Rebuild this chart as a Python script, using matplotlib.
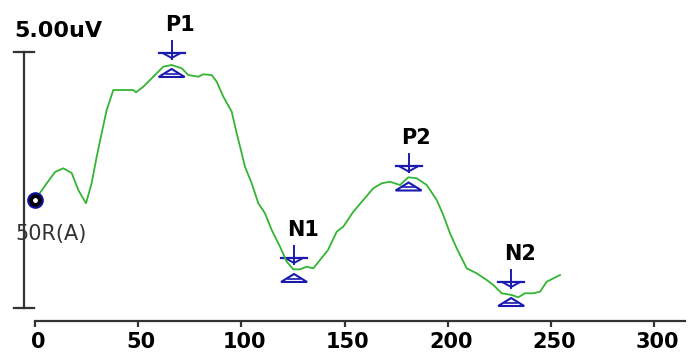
import matplotlib
matplotlib.use("Agg")
import matplotlib.pyplot as plt
import matplotlib.transforms as mtransforms
from matplotlib.lines import Line2D
from matplotlib.patches import Polygon

# ---------------- data ----------------
time_ms = [0, 5.67, 9.69, 13.71, 17.78, 20.98, 24.71, 27.47, 29.89, 32.32, 34.74,
           37.94, 42.15, 47.48, 48.93, 52.47, 57.32, 62.16, 66.23, 71.08, 74.27,
           79.12, 81.54, 85.61, 88.03, 91.23, 95.30, 97.72, 100.15, 101.74, 104.99,
           108.19, 111.43, 114.68, 118.70, 121.95, 125.15, 128.39, 131.64, 134.84,
           138.08, 141.96, 146.17, 149.37, 154.22, 159.06, 163.91, 167.97, 171.99,
           176.84, 180.86, 184.93, 189.78, 194.62, 197.82, 201.07, 204.31, 209.16,
           214.00, 218.85, 222.05, 226.12, 230.96, 234.16, 237.40, 241.42, 244.67,
           247.92, 254.36]
amp_uv = [0, 0.326, 0.547, 0.619, 0.527, 0.195, -0.064, 0.332, 0.846, 1.309, 1.758,
          2.148, 2.148, 2.148, 2.104, 2.213, 2.408, 2.604, 2.637, 2.572, 2.441,
          2.408, 2.455, 2.441, 2.311, 2.018, 1.725, 1.303, 0.912, 0.650, 0.326,
          -0.064, -0.260, -0.586, -0.912, -1.205, -1.354, -1.354, -1.303, -1.334,
          -1.172, -0.977, -0.619, -0.521, -0.229, 0.0, 0.229, 0.326, 0.357,
          0.293, 0.443, 0.424, 0.293, 0.0, -0.293, -0.650, -0.943, -1.334,
          -1.432, -1.563, -1.660, -1.822, -1.855, -1.900, -1.822, -1.822, -1.791,
          -1.596, -1.465]

peak_labels = ["P1", "N1", "P2", "N2"]
peak_time = [66.2, 125.5, 181.0, 230.7]
peak_amp = [2.637, -1.367, 0.42, -1.836]

x_ticks = [0, 50, 100, 150, 200, 250, 300]
cal_uv = 5.0
cal_label = "5.00uV"
channel_label = "50R(A)"

# ---------------- figure ----------------
W, H = 694, 354
PX_PER_MS = 2.064
PX_PER_UV = 51.2
X0_PX, Y0_PX = 35, 200

fig = plt.figure(figsize=(W / 100, H / 100), dpi=100)
ax = fig.add_axes([0, 0, 1, 1])
ax.set_xlim(-X0_PX / PX_PER_MS, (W - X0_PX) / PX_PER_MS)
ax.set_ylim((Y0_PX - H) / PX_PER_UV, Y0_PX / PX_PER_UV)
ax.set_autoscale_on(False)

GREEN = "#33b533"
BLUE = "#1a1ab0"
DARK = "#333333"

# waveform
ax.plot(time_ms, amp_uv, color=GREEN, lw=1.3, zorder=3)

# start dot
ax.plot([time_ms[0]], [amp_uv[0]], marker="o", ms=10.5, mfc="black", mec="#1010a0",
        mew=1.5, zorder=5)
ax.plot([time_ms[0]], [amp_uv[0]], marker="o", ms=2.5, mfc="white", mec="white",
        zorder=6)

# x axis as bottom spine
for s in ["left", "right", "top"]:
    ax.spines[s].set_visible(False)
axis_y = (Y0_PX - 321) / PX_PER_UV
ax.spines["bottom"].set_position(("data", axis_y))
ax.spines["bottom"].set_bounds(0, (685 - X0_PX) / PX_PER_MS)
ax.spines["bottom"].set_color(DARK)
ax.spines["bottom"].set_linewidth(1.6)
ax.set_xticks(x_ticks)
ax.set_xticklabels([str(v) for v in x_ticks])
ax.tick_params(axis="x", direction="out", length=4, width=1.6, color=DARK, pad=4,
               labelsize=15)
for lab in ax.get_xticklabels():
    lab.set_fontweight("bold")
    lab.set_transform(lab.get_transform() +
                      mtransforms.ScaledTranslation(3 / 100, 0, fig.dpi_scale_trans))
ax.set_yticks([])

# calibration bar
cal_x = (24 - X0_PX) / PX_PER_MS
cal_top = (Y0_PX - 52) / PX_PER_UV
cal_bot = cal_top - cal_uv
half_w = 10 / PX_PER_MS
ax.plot([cal_x, cal_x], [cal_bot, cal_top], color=DARK, lw=1.6, clip_on=False)
ax.plot([cal_x - half_w, cal_x + half_w], [cal_top, cal_top], color=DARK, lw=1.6)
ax.plot([cal_x - half_w, cal_x + half_w], [cal_bot, cal_bot], color=DARK, lw=1.6)

# pixel transform (y down from top)
pix = mtransforms.Affine2D().scale(1, -1).translate(0, H)
ax.text(14, 37, cal_label, transform=pix, fontsize=16, fontweight="bold",
        ha="left", va="baseline", color="black")
ax.text(15, 240, channel_label, transform=pix, fontsize=15, ha="left",
        va="baseline", color=DARK)

# peak markers
for lab, t, a in zip(peak_labels, peak_time, peak_amp):
    tr = mtransforms.Affine2D().scale(1, -1) + \
        mtransforms.ScaledTranslation(t, a, ax.transData)
    # upper marker
    ax.add_artist(Line2D([0, 0], [-24, -6], color=BLUE, lw=1.4, transform=tr))
    ax.add_artist(Line2D([-13, 13], [-12, -12], color=BLUE, lw=1.6, transform=tr))
    ax.add_artist(Line2D([-9, 0, 9], [-12, -7, -12], color=BLUE, lw=1.4, transform=tr))
    # lower marker
    ax.add_artist(Polygon([[-13, 12], [0, 4], [13, 12]], closed=True, fc="white",
                          ec=BLUE, lw=1.5, transform=tr, zorder=4))
    ax.add_artist(Line2D([-6, 6], [9, 9], color=BLUE, lw=1.2, transform=tr, zorder=4))
    ax.text(-7, -34, lab, transform=tr, fontsize=15, fontweight="bold",
            ha="left", va="baseline", color="black")

fig.savefig("out.png", dpi=100)
